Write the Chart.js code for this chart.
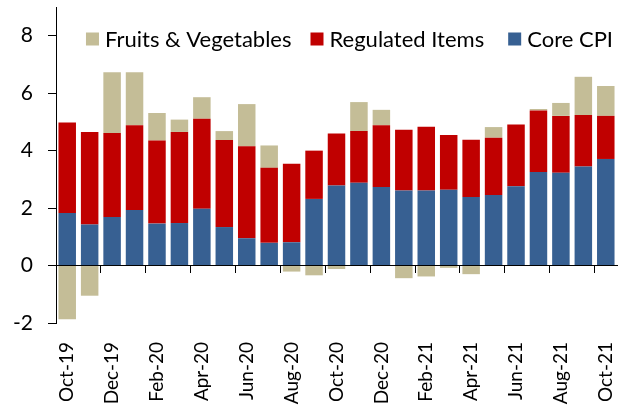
<!DOCTYPE html>
<html>
<head>
<meta charset="utf-8">
<script src="https://cdn.jsdelivr.net/npm/chart.js@4.4.1/dist/chart.umd.min.js"></script>
<style>
  html, body { margin: 0; padding: 0; background: #ffffff; }
  #wrap { width: 626px; height: 409px; }
</style>
</head>
<body>
<div id="wrap"><canvas id="c" width="626" height="409"></canvas></div>
<script>
// ---- Data ----
const months = ["Oct-19","Nov-19","Dec-19","Jan-20","Feb-20","Mar-20","Apr-20","May-20","Jun-20","Jul-20","Aug-20","Sep-20",
                "Oct-20","Nov-20","Dec-20","Jan-21","Feb-21","Mar-21","Apr-21","May-21","Jun-21","Jul-21","Aug-21","Sep-21","Oct-21"];
const coreCPI = [1.83,1.43,1.69,1.93,1.46,1.48,1.98,1.34,0.95,0.79,0.81,2.32,2.79,2.88,2.73,2.61,2.61,2.64,2.39,2.46,2.76,3.26,3.23,3.45,3.71];
const regulatedItems = [3.15,3.22,2.92,2.95,2.89,3.17,3.13,3.03,3.20,2.61,2.73,1.68,1.81,1.80,2.15,2.12,2.22,1.90,1.99,1.99,2.15,2.14,1.98,1.79,1.50];
const fruitsVegetables = [-1.87,-1.05,2.12,1.85,0.96,0.43,0.75,0.31,1.47,0.78,-0.21,-0.34,-0.12,1.01,0.54,-0.44,-0.38,-0.08,-0.30,0.37,0.00,0.05,0.45,1.33,1.04];
const seriesNames = ["Core CPI","Regulated Items","Fruits & Vegetables"];
const yTicks = [-2,0,2,4,6,8];

// ---- Styles ----
const FONT = "Lato";
const TICK_SIZE = 19;
const YTICK_SIZE = 21;
const LEGEND_SIZE = 22;
const colors = ["#376092","#C00000","#C4BD97"];

const insideLegend = {
  id: 'insideLegend',
  afterDraw(chart) {
    const {ctx, chartArea} = chart;
    const items = chart.data.datasets.slice().reverse();
    ctx.save();
    ctx.font = LEGEND_SIZE + "px " + FONT;
    const box = 13, gapText = 6, gaps = [19, 24];
    const widths = items.map(d => ctx.measureText(d.label).width);
    const total = widths.reduce((a, b) => a + b, 0) + items.length * (box + gapText) + gaps[0] + gaps[1];
    let x = chartArea.right - 4 - total;
    const yc = chartArea.top + 32;
    items.forEach((d, i) => {
      ctx.fillStyle = d.backgroundColor;
      ctx.fillRect(x, yc - box / 2, box, box);
      x += box + gapText;
      ctx.fillStyle = "#000";
      ctx.textBaseline = "middle";
      ctx.textAlign = "left";
      ctx.fillText(d.label, x, yc + 1);
      x += widths[i] + (gaps[i] || 0);
    });
    ctx.restore();
  }
};

const values = [coreCPI, regulatedItems, fruitsVegetables];
const datasets = seriesNames.map((name, i) => ({
  label: name,
  data: values[i],
  backgroundColor: colors[i],
  borderWidth: 0,
  xAxisID: 'x',
  yAxisID: 'y',
  barPercentage: 0.78,
  categoryPercentage: 1.0
}));

new Chart(document.getElementById('c'), {
  type: 'bar',
  data: { labels: months, datasets },
  options: {
    responsive: false,
    devicePixelRatio: 1,
    animation: false,
    layout: { padding: { top: 7, right: 9, bottom: 0, left: 12 } },
    plugins: { legend: { display: false }, tooltip: { enabled: false } },
    scales: {
      x: {
        type: 'category',
        position: 'bottom',
        stacked: true,
        grid: { display: false },
        border: { display: false },
        afterFit: s => { s.height = 86; s.paddingLeft = 0; s.paddingRight = 0; },
        ticks: {
          autoSkip: false,
          minRotation: 90,
          maxRotation: 90,
          padding: 11,
          color: '#000',
          font: { family: FONT, size: TICK_SIZE },
          callback: (v, i) => (i % 2 === 0 ? months[i] : '')
        }
      },
      x0: {
        type: 'category',
        axis: 'x',
        position: { y: 0 },
        offset: true,
        afterFit: s => { s.height = 0; s.paddingLeft = 0; s.paddingRight = 0; },
        grid: {
          display: true,
          drawOnChartArea: false,
          drawTicks: true,
          tickLength: 7,
          offset: true,
          lineWidth: 1,
          color: ctx => (typeof ctx.index === 'number' && ctx.index % 2 === 0 ? '#000' : 'rgba(0,0,0,0)')
        },
        border: { display: true, color: '#000', width: 1 },
        ticks: { display: false }
      },
      y: {
        stacked: true,
        min: -2,
        max: 9,
        border: { display: true, color: '#000', width: 1 },
        grid: { drawOnChartArea: false, drawTicks: true, tickLength: 8, color: '#000' },
        afterBuildTicks: s => { s.ticks = yTicks.map(v => ({ value: v })); },
        afterFit: s => { s.width = 44; s.paddingTop = 0; s.paddingBottom = 0; },
        ticks: {
          stepSize: 2,
          includeBounds: false,
          padding: 15,
          color: '#000',
          font: { family: FONT, size: YTICK_SIZE }
        }
      }
    }
  },
  plugins: [insideLegend]
});
</script>
</body>
</html>
